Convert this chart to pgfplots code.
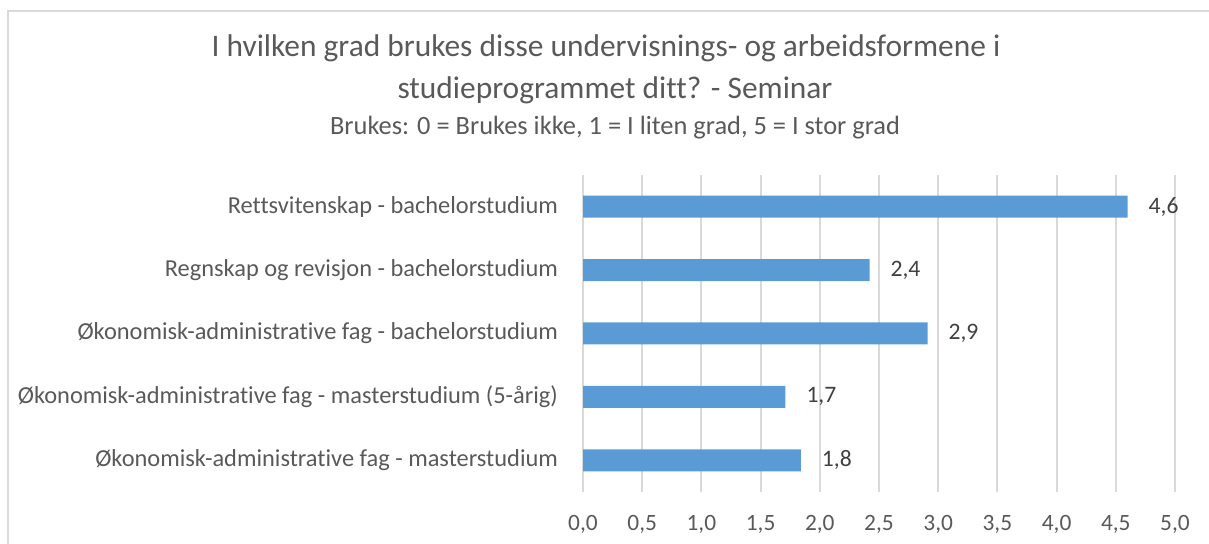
\documentclass[border=0pt]{standalone}
\usepackage{pgfplots}
\pgfplotsset{compat=1.18}
\usepackage{fontspec}
\setmainfont{Carlito}[Ligatures=NoCommon]
\definecolor{barblue}{HTML}{5B9BD5}
\definecolor{gridgray}{HTML}{D9D9D9}
\definecolor{txtgray}{HTML}{595959}
\definecolor{lblgray}{HTML}{404040}
\begin{document}
\begin{tikzpicture}[x=0.5pt,y=0.5pt]
\useasboundingbox (0,0) rectangle (1209,544);
\draw[color=gridgray, line width=1pt] (7.5,0) -- (7.5,532.5) -- (1209,532.5);
\node[font=\fontsize{15.7}{18}\selectfont, text=txtgray] at (606,496) {I hvilken grad brukes disse undervisnings- og arbeidsformene i};
\node[font=\fontsize{15.7}{18}\selectfont, text=txtgray] at (615,454) {studieprogrammet ditt? - Seminar};
\node[font=\fontsize{13.2}{15}\selectfont, text=txtgray] at (615,416) {Brukes: 0 = Brukes ikke, 1 = I liten grad, 5 = I stor grad};
\begin{axis}[
  anchor=south west, at={(291.5pt,26pt)},
  width=296pt, height=158.5pt, scale only axis,
  xmin=0, xmax=5, ymin=0.5, ymax=5.5,
  xbar, bar width=11pt,
  xtick={0,0.5,...,5},
  ytick={1,2,3,4,5},
  yticklabels={{Økonomisk-administrative fag - masterstudium},{Økonomisk-administrative fag - masterstudium (5-årig)},{Økonomisk-administrative fag - bachelorstudium},{Regnskap og revisjon - bachelorstudium},{Rettsvitenskap - bachelorstudium}},
  xmajorgrids, grid style={gridgray, line width=1pt},
  axis line style={draw=none},
  major tick length=0pt,
  /pgf/number format/.cd, use comma, fixed, fixed zerofill, precision=1, assume math mode=true,
  /pgfplots/.cd,
  xticklabel style={font=\fontsize{11.7}{13}\selectfont, text=txtgray, yshift=-8pt},
  yticklabel style={font=\fontsize{12.2}{14}\selectfont, text=txtgray, xshift=-9pt},
  nodes near coords,
  nodes near coords style={font=\fontsize{11.8}{13}\selectfont, text=lblgray, anchor=west, xshift=7pt},
]
\addplot[fill=barblue, draw=none] coordinates {(1.84,1) (1.71,2) (2.91,3) (2.42,4) (4.6,5)};
\end{axis}
\end{tikzpicture}
\end{document}
